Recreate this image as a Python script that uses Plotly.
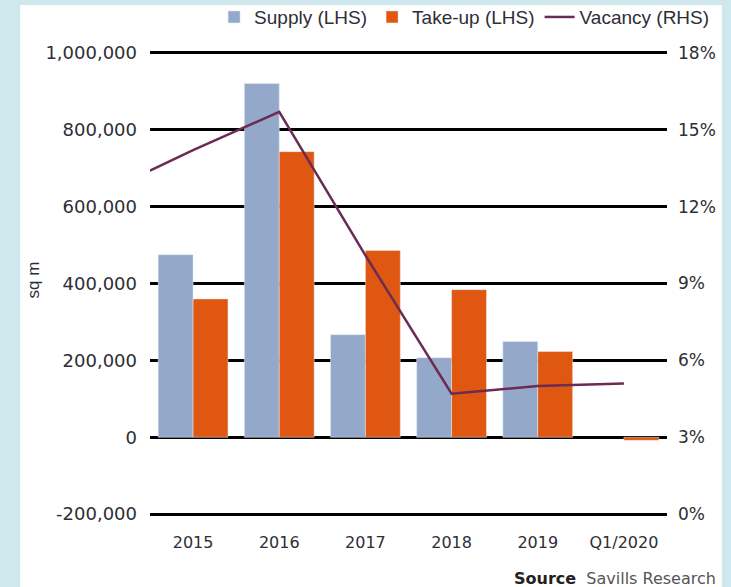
import plotly.graph_objects as go

# data
categories = ['2015', '2016', '2017', '2018', '2019', 'Q1/2020']
supply = [475000, 920000, 267000, 207000, 249000, None]
take_up = [360000, 743000, 486000, 384000, 223000, -8000]

# the vacancy line starts at the left edge of the plot, then follows the categories
vacancy_pos = [-0.5, 0, 1, 2, 3, 4, 5]
vacancy = [13.4, 14.2, 15.7, 10.1, 4.7, 5.0, 5.1]

left_ticks = [-200000, 0, 200000, 400000, 600000, 800000, 1000000]
left_labels = ['-200,000', '0', '200,000', '400,000', '600,000', '800,000', '1,000,000']
right_ticks = [0, 3, 6, 9, 12, 15, 18]
right_labels = ['0%', '3%', '6%', '9%', '12%', '15%', '18%']

text_color = '#2e2e35'

fig = go.Figure()
fig.add_trace(go.Bar(x=categories, y=supply, name='Supply (LHS)',
                     marker=dict(color='#94a8c9')))
fig.add_trace(go.Bar(x=categories, y=take_up, name='Take-up (LHS)',
                     marker=dict(color='#e05712')))
fig.add_trace(go.Scatter(x=vacancy_pos, y=vacancy, name='Vacancy (RHS)', mode='lines',
                         line=dict(color='#6b2b52', width=2.5),
                         xaxis='x2', yaxis='y2'))

fig.update_layout(
    width=731, height=587,
    margin=dict(l=150, r=64, t=49, b=69, autoexpand=False),
    paper_bgcolor='#cfe8ee',
    plot_bgcolor='rgba(0,0,0,0)',
    barmode='group', bargap=0.19, bargroupgap=0,
    showlegend=True,
    legend=dict(orientation='h', x=1.093, xanchor='right', y=1.068, yanchor='middle',
                font=dict(family='Liberation Sans', size=19, color=text_color),
                bgcolor='rgba(0,0,0,0)', itemwidth=30, traceorder='normal'),
    xaxis=dict(type='category', range=[-0.5, 5.5], showgrid=False, zeroline=False,
               tickfont=dict(family='DejaVu Sans', size=16, color=text_color),
               ticklabelstandoff=13),
    xaxis2=dict(overlaying='x', range=[-0.5, 5.5], visible=False),
    yaxis=dict(range=[-210000, 1010000], tickvals=left_ticks, ticktext=left_labels,
               showgrid=True, gridcolor='black', gridwidth=2.5,
               zeroline=True, zerolinecolor='black', zerolinewidth=2.5,
               tickfont=dict(family='DejaVu Sans', size=18, color=text_color),
               ticklabelstandoff=12),
    yaxis2=dict(overlaying='y', side='right', range=[-0.15, 18.15],
                tickvals=right_ticks, ticktext=right_labels,
                showgrid=False, zeroline=False,
                tickfont=dict(family='DejaVu Sans', size=17, color=text_color),
                ticklabelstandoff=10),
    shapes=[dict(type='rect', xref='paper', yref='paper', x0=-0.251, x1=1.106,
                 y0=-0.2, y1=1.094, fillcolor='white', line=dict(width=0), layer='below')],
    annotations=[
        dict(text='sq m', textangle=-90, xref='paper', yref='paper', x=-0.226, xanchor='center',
             y=0.507, yanchor='middle', showarrow=False,
             font=dict(family='Liberation Sans', size=17, color=text_color)),
        dict(text='<b>Source</b>  <span style="color:#555">Savills Research</span>',
             xref='paper', yref='paper', x=1.098, xanchor='right', y=-0.128, yanchor='middle',
             showarrow=False, font=dict(family='DejaVu Sans', size=16, color='#222')),
    ],
)

# drop the default page margin so the figure fills the window
fig.write_html("out.html", config={'displayModeBar': False},
               post_script="document.body.style.margin='0';")
